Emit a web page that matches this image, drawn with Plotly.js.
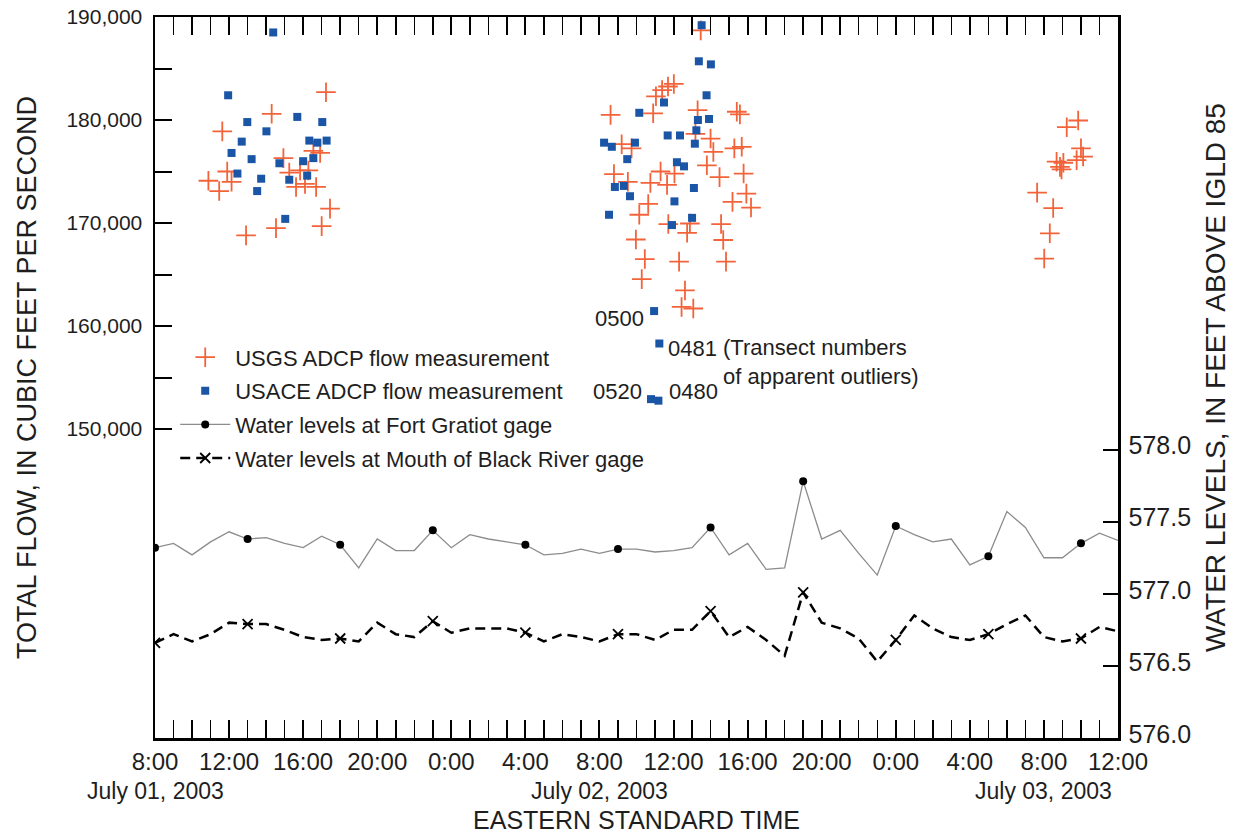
<!DOCTYPE html>
<html>
<head>
<meta charset="utf-8">
<script src="https://cdn.plot.ly/plotly-3.0.1.min.js"></script>
<style>
  html, body { margin: 0; padding: 0; background: #ffffff; }
  #chart { width: 1238px; height: 834px; }
</style>
</head>
<body>
<div id="chart"></div>
<script>
// ---------------- DATA ----------------
// USGS ADCP flow measurements (time EST, total flow ft3/s)
const usgsTime = [
  '2003-07-01 17:14','2003-07-01 14:18','2003-07-01 11:38','2003-07-01 14:56','2003-07-01 16:33',
  '2003-07-01 16:55','2003-07-01 11:54','2003-07-01 10:53','2003-07-01 12:08','2003-07-01 11:28',
  '2003-07-01 15:15','2003-07-01 15:50','2003-07-01 16:17','2003-07-01 15:37','2003-07-01 16:06',
  '2003-07-01 16:42','2003-07-01 17:27','2003-07-01 14:32','2003-07-01 17:00','2003-07-01 12:55',
  '2003-07-02 13:28','2003-07-02 12:01','2003-07-02 11:42','2003-07-02 11:23','2003-07-02 11:03',
  '2003-07-02 08:36','2003-07-02 10:54','2003-07-02 13:18','2003-07-02 15:25','2003-07-02 15:35',
  '2003-07-02 13:11','2003-07-02 14:00','2003-07-02 14:09','2003-07-02 15:17','2003-07-02 15:41',
  '2003-07-02 09:12','2003-07-02 09:44','2003-07-02 08:47','2003-07-02 09:32','2003-07-02 11:18',
  '2003-07-02 12:03','2003-07-02 10:45','2003-07-02 11:39','2003-07-02 13:48','2003-07-02 14:29',
  '2003-07-02 15:47','2003-07-02 15:56','2003-07-02 15:11','2003-07-02 16:11','2003-07-02 10:38',
  '2003-07-02 10:09','2003-07-02 11:43','2003-07-02 12:53','2003-07-02 12:44','2003-07-02 14:34',
  '2003-07-02 14:41','2003-07-02 09:58','2003-07-02 10:27','2003-07-02 12:18','2003-07-02 14:50',
  '2003-07-02 10:17','2003-07-02 12:37','2003-07-02 12:26','2003-07-02 13:04',
  '2003-07-03 09:51','2003-07-03 09:14','2003-07-03 10:00','2003-07-03 10:07','2003-07-03 09:46',
  '2003-07-03 08:41','2003-07-03 09:03','2003-07-03 08:52','2003-07-03 08:57','2003-07-03 07:38',
  '2003-07-03 08:30','2003-07-03 08:19','2003-07-03 08:01'
];
const usgsFlow = [
  182700,180600,178900,176300,177000,
  176800,175000,174100,174000,173100,
  174900,175100,175100,173500,173800,
  173500,171400,169500,169700,168800,
  188700,183500,183250,182900,182300,
  180500,180650,180950,180800,180550,
  178650,178200,176900,177250,177400,
  177650,177250,174750,174000,175000,
  174800,173900,173700,175600,174450,
  174800,172850,172050,171500,171850,
  170800,169900,169950,169050,169900,
  168350,168400,166500,166250,166250,
  164550,163450,161850,161700,
  179950,179300,177250,176450,176100,
  175950,175850,175450,175200,172950,
  171450,169000,166550
];

// USACE ADCP flow measurements (last four are the labelled outliers)
const usaceTime = [
  '2003-07-01 11:57','2003-07-01 12:59','2003-07-01 14:01','2003-07-01 15:41','2003-07-01 17:02',
  '2003-07-01 12:41','2003-07-01 12:08','2003-07-01 13:13','2003-07-01 14:43','2003-07-01 16:20',
  '2003-07-01 16:46','2003-07-01 17:16','2003-07-01 16:00','2003-07-01 16:33','2003-07-01 12:27',
  '2003-07-01 13:44','2003-07-01 13:31','2003-07-01 15:15','2003-07-01 16:13','2003-07-01 15:02',
  '2003-07-01 14:23',
  '2003-07-02 13:22','2003-07-02 14:01','2003-07-02 13:31','2003-07-02 13:47','2003-07-02 11:29',
  '2003-07-02 10:09','2003-07-02 13:19','2003-07-02 13:55','2003-07-02 13:14','2003-07-02 11:41',
  '2003-07-02 12:21','2003-07-02 13:09','2003-07-02 08:15','2003-07-02 08:40','2003-07-02 09:55',
  '2003-07-02 09:30','2003-07-02 12:11','2003-07-02 12:34','2003-07-02 08:50','2003-07-02 09:19',
  '2003-07-02 09:39','2003-07-02 13:06','2003-07-02 08:31','2003-07-02 12:03','2003-07-02 11:55',
  '2003-07-02 13:00',
  '2003-07-02 10:57','2003-07-02 11:14','2003-07-02 10:47','2003-07-02 11:11'
];
const usaceFlow = [
  182400,179800,178900,180300,179800,
  177900,176800,176200,175800,178000,
  177800,178000,176000,176300,174800,
  174300,173100,174200,174600,170400,
  188500,
  185700,185400,189200,182400,181700,
  180700,180000,180100,179000,178500,
  178500,177700,177800,177400,177800,
  176200,175900,175500,173500,173600,
  172600,173400,170800,172100,169800,
  170500,
  161450,158300,152900,152750
];
const outlierLabels = ['0500','0481','0520','0480'];

// Hourly water levels, feet above IGLD 85, from 2003-07-01 08:00 EST
const levelStart = '2003-07-01 08:00';
const fortGratiot = [
  577.32,577.35,577.27,577.36,577.43,577.38,577.39,577.35,577.32,577.40,
  577.34,577.18,577.38,577.30,577.30,577.44,577.32,577.41,577.38,577.36,
  577.34,577.27,577.28,577.31,577.28,577.31,577.31,577.29,577.30,577.32,
  577.46,577.27,577.35,577.17,577.18,577.78,577.38,577.44,577.28,577.13,
  577.47,577.41,577.36,577.38,577.20,577.26,577.57,577.46,577.25,577.25,
  577.35,577.42,577.37
];
const blackRiver = [
  576.66,576.72,576.67,576.72,576.80,576.79,576.79,576.75,576.70,576.68,
  576.69,576.67,576.80,576.72,576.70,576.81,576.73,576.76,576.76,576.76,
  576.73,576.67,576.72,576.70,576.67,576.72,576.72,576.68,576.75,576.75,
  576.88,576.70,576.77,576.68,576.57,577.01,576.80,576.76,576.69,576.53,
  576.68,576.85,576.76,576.70,576.68,576.72,576.79,576.85,576.70,576.67,
  576.69,576.77,576.74
];

const flowTicks = [150000,155000,160000,165000,170000,175000,180000,185000,190000];
const flowTickText = ['150,000','','160,000','','170,000','','180,000','','190,000'];
const levelTicks = [576.0,576.5,577.0,577.5,578.0];
const levelTickText = ['576.0','576.5','577.0','577.5','578.0'];
const dateLabels = ['July 01, 2003','July 02, 2003','July 03, 2003'];
const dateLabelTimes = ['2003-07-01 08:00','2003-07-02 08:00','2003-07-03 08:00'];

// ---------------- STYLE ----------------
const FONT = 'Liberation Sans, Arial, Helvetica, sans-serif';
const TXT = '#1e1e1e';
const HOUR = 3600000;
const markEvery = 5;
const dotColors = fortGratiot.map((v, i) => i % markEvery === 0 ? '#000000' : 'rgba(0,0,0,0)');
const xColors = blackRiver.map((v, i) => i % markEvery === 0 ? '#000000' : 'rgba(0,0,0,0)');

const traces = [
  {
    type: 'scatter', mode: 'markers', name: 'USGS ADCP flow measurement',
    x: usgsTime, y: usgsFlow, xaxis: 'x', yaxis: 'y',
    legendgroup: 'g1',
    marker: { symbol: 'cross-thin-open', size: 14, color: '#F2633A', line: { width: 1.8, color: '#F2633A' } }
  },
  {
    type: 'scatter', mode: 'markers', name: 'USACE ADCP flow measurement',
    x: usaceTime, y: usaceFlow, xaxis: 'x', yaxis: 'y',
    legendgroup: 'g2',
    marker: { symbol: 'square', size: 8, color: '#1A55A6', line: { width: 0 } }
  },
  {
    type: 'scatter', mode: 'lines+markers', name: 'Water levels at Fort Gratiot gage',
    x0: levelStart, dx: HOUR, y: fortGratiot, xaxis: 'x', yaxis: 'y2',
    legendgroup: 'g3',
    line: { color: '#8c8c8c', width: 1.3 },
    marker: { symbol: 'circle', size: 8, color: dotColors, line: { width: 0 } }
  },
  {
    type: 'scatter', mode: 'lines+markers', name: 'Water levels at Mouth of Black River gage',
    x0: levelStart, dx: HOUR, y: blackRiver, xaxis: 'x', yaxis: 'y2',
    legendgroup: 'g4',
    line: { color: '#000000', width: 2.5, dash: '10px,6px' },
    marker: { symbol: 'x-thin-open', size: 10, color: xColors, line: { width: 1.8, color: xColors } }
  }
];

const n = usaceTime.length;
const annotations = [
  { x: usaceTime[n-4], y: usaceFlow[n-4], text: outlierLabels[0], xanchor: 'right', yanchor: 'middle', xshift: -8, yshift: -7 },
  { x: usaceTime[n-3], y: usaceFlow[n-3], text: outlierLabels[1], xanchor: 'left', yanchor: 'middle', xshift: 7, yshift: -5 },
  { x: usaceTime[n-2], y: usaceFlow[n-2], text: outlierLabels[2], xanchor: 'right', yanchor: 'middle', xshift: -7, yshift: 8 },
  { x: usaceTime[n-1], y: usaceFlow[n-1], text: outlierLabels[3], xanchor: 'left', yanchor: 'middle', xshift: 9, yshift: 9 }
].map(a => Object.assign(a, { xref: 'x', yref: 'y', showarrow: false, font: { family: FONT, size: 22, color: TXT } }));

annotations.push({
  xref: 'x', yref: 'y', x: '2003-07-02 14:33', y: 159300,
  xanchor: 'left', yanchor: 'top', align: 'left', showarrow: false,
  text: '(Transect numbers<br>of apparent outliers)',
  font: { family: FONT, size: 22, color: TXT }
});

dateLabels.forEach((t, i) => annotations.push({
  xref: 'x', yref: 'paper', x: dateLabelTimes[i], y: -0.0735,
  xanchor: 'center', yanchor: 'middle', showarrow: false, text: t,
  font: { family: FONT, size: 23, color: TXT }
}));

const layout = {
  width: 1238, height: 834,
  margin: { l: 155, r: 120, t: 17, b: 96, pad: 0 },
  paper_bgcolor: '#ffffff', plot_bgcolor: '#ffffff',
  font: { family: FONT, color: TXT },
  showlegend: true,
  legend: {
    x: 0.021, y: 0.557, xanchor: 'left', yanchor: 'top',
    bgcolor: 'rgba(0,0,0,0)', borderwidth: 0,
    font: { family: FONT, size: 22, color: TXT },
    itemwidth: 50, traceorder: 'grouped', tracegroupgap: 2,
    itemclick: false, itemdoubleclick: false
  },
  xaxis: {
    type: 'date',
    range: ['2003-07-01 08:00', '2003-07-03 12:00'],
    tick0: '2003-07-01 08:00', dtick: 4 * HOUR, tickformat: '%-H:%M',
    ticks: 'inside', ticklen: 18, tickwidth: 2, tickcolor: '#000',
    ticklabelstandoff: 1,
    minor: { tick0: '2003-07-01 08:00', dtick: HOUR, ticks: 'inside', ticklen: 8, tickwidth: 1.5, tickcolor: '#000', showgrid: false },
    showline: true, linewidth: 2.5, linecolor: '#000', mirror: 'allticks',
    showgrid: false, zeroline: false,
    tickfont: { family: FONT, size: 24, color: TXT },
    title: { text: 'EASTERN STANDARD TIME', font: { family: FONT, size: 25, color: TXT }, standoff: 40 },
    automargin: false
  },
  yaxis: {
    range: [120000, 190000],
    tickmode: 'array', tickvals: flowTicks, ticktext: flowTickText,
    ticks: 'inside', ticklen: 17, tickwidth: 2, tickcolor: '#000',
    ticklabelstandoff: 6,
    showline: true, linewidth: 2.5, linecolor: '#000', mirror: false,
    showgrid: false, zeroline: false,
    tickfont: { family: FONT, size: 21, color: TXT },
    title: { text: 'TOTAL FLOW, IN CUBIC FEET PER SECOND', font: { family: FONT, size: 27, color: TXT }, standoff: 22 },
    automargin: false
  },
  yaxis2: {
    overlaying: 'y', side: 'right',
    range: [576, 581],
    tickmode: 'array', tickvals: levelTicks, ticktext: levelTickText,
    ticks: 'inside', ticklen: 15, tickwidth: 2, tickcolor: '#000',
    ticklabelshift: -4, ticklabelstandoff: 3,
    showline: true, linewidth: 2.5, linecolor: '#000',
    showgrid: false, zeroline: false,
    tickfont: { family: FONT, size: 25, color: TXT },
    title: { text: 'WATER LEVELS, IN FEET ABOVE IGLD 85', font: { family: FONT, size: 28, color: TXT }, standoff: 16 },
    automargin: false
  },
  annotations: annotations
};

Plotly.newPlot('chart', traces, layout, { displayModeBar: false, staticPlot: true });
</script>
</body>
</html>
